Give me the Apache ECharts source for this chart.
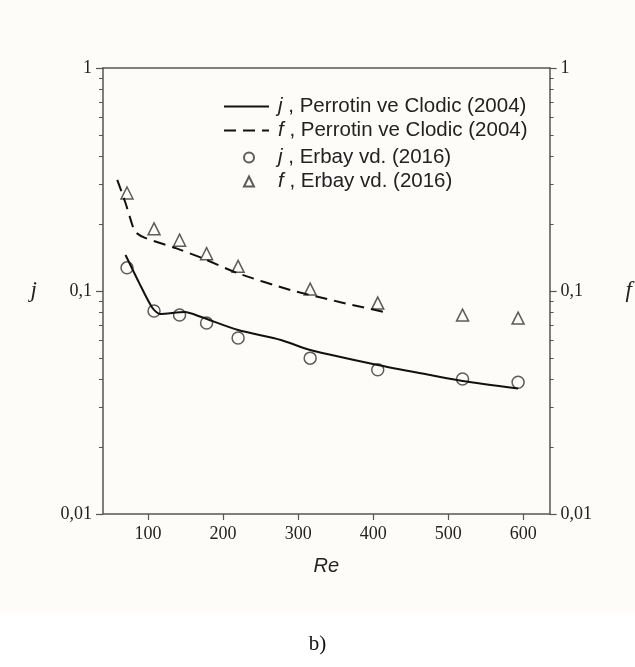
<!DOCTYPE html>
<html><head><meta charset="utf-8">
<script src="https://cdn.jsdelivr.net/npm/echarts@6/dist/echarts.min.js"></script>
<style>html,body{margin:0;padding:0;background:#fff}#c{width:635px;height:667px}</style>
</head><body><div id="c"></div>
<script>
// Experimental data (Erbay vd. 2016)
const reExp = [72, 108, 142, 178, 220, 316, 406, 519, 593];
const jExp  = [0.127, 0.0813, 0.078, 0.0719, 0.0615, 0.050, 0.0443, 0.0403, 0.039];
const fExp  = [0.275, 0.19, 0.169, 0.147, 0.129, 0.102, 0.0883, 0.078, 0.0756];
// Correlation curves (Perrotin ve Clodic 2004)
const reJLine = [70, 88, 105, 116, 149, 171, 220, 277, 316, 406, 476, 519, 593];
const jLine   = [0.145, 0.109, 0.0848, 0.0788, 0.0805, 0.0764, 0.0668, 0.0603, 0.0544, 0.0466, 0.042, 0.0395, 0.0365];
const reFLine = [59, 70, 79, 83, 96, 136, 171, 220, 290, 355, 372, 415];
const fLine   = [0.315, 0.248, 0.198, 0.184, 0.173, 0.156, 0.141, 0.12, 0.101, 0.0893, 0.0866, 0.0805];
// Axis ticks
const xTickLabels = [100, 200, 300, 400, 500, 600];
const yMajor = [0.01, 0.1, 1];
const yMinor = [0.02,0.03,0.04,0.05,0.06,0.07,0.08,0.09,0.2,0.3,0.4,0.5,0.6,0.7,0.8,0.9];
const yLabelText = {0.01: '0,01', 0.1: '0,1', 1: '1'};
// Legend names
const nameJLine = 'j| , Perrotin ve Clodic (2004)';
const nameFLine = 'f| , Perrotin ve Clodic (2004)';
const nameJExp  = 'j| , Erbay vd. (2016)';
const nameFExp  = 'f| , Erbay vd. (2016)';

const zip = (a, b) => a.map((v, i) => [v, b[i]]);
const AX = '#555';
const serif = '"Liberation Serif", "DejaVu Serif", serif';
const sans = '"Liberation Sans", Arial, sans-serif';

const grid = {left: 103, right: 84, top: 68, bottom: 153};
const xCommon = {type: 'value', min: 40, max: 635};
const yCommon = {type: 'log', logBase: 10, min: 0.01, max: 1};

const legendText = {
  fontFamily: sans, fontSize: 20.5, color: '#222',
  rich: {it: {fontFamily: sans, fontStyle: 'italic', fontSize: 20.5, color: '#222'}}
};
const legendFmt = function (name) {
  const parts = name.split('|');
  return '{it|' + parts[0] + '}' + parts[1];
};

const chart = echarts.init(document.getElementById('c'), null, {renderer: 'canvas'});
chart.setOption({
  backgroundColor: '#ffffff',
  animation: false,
  graphic: [
    {type: 'rect', shape: {x: 0, y: 0, width: 635, height: 613}, style: {fill: '#fdfcf8'}, z: -10, silent: true},
    {type: 'text', left: 'center', top: 634, style: {text: 'b)', font: '21px ' + serif, fill: '#111'}}
  ],
  grid: grid,
  xAxis: [
    Object.assign({}, xCommon, {
      position: 'bottom',
      name: 'Re', nameLocation: 'middle', nameGap: 42,
      nameTextStyle: {fontFamily: sans, fontStyle: 'italic', fontSize: 20, color: '#222'},
      axisLine: {show: true, onZero: false, lineStyle: {color: AX, width: 1.5}},
      axisTick: {show: true, length: 6, customValues: xTickLabels, lineStyle: {color: AX, width: 1.2}},
      axisLabel: {customValues: xTickLabels, fontFamily: serif, fontSize: 18, color: '#222', margin: 11},
      splitLine: {show: false}
    }),
    Object.assign({}, xCommon, {
      position: 'top',
      axisLine: {show: true, onZero: false, lineStyle: {color: AX, width: 1.5}},
      axisTick: {show: false}, axisLabel: {show: false}, splitLine: {show: false}
    })
  ],
  yAxis: [
    Object.assign({}, yCommon, {
      position: 'left',
      name: 'j', nameLocation: 'middle', nameGap: 66, nameRotate: 0,
      nameTextStyle: {fontFamily: serif, fontStyle: 'italic', fontSize: 23, color: '#222'},
      axisLine: {show: true, onZero: false, lineStyle: {color: AX, width: 1.5}},
      axisTick: {show: true, length: 7, customValues: yMajor, lineStyle: {color: AX, width: 1.2}},
      axisLabel: {customValues: yMajor, formatter: v => yLabelText[v] || v, fontFamily: serif, fontSize: 18, color: '#222', margin: 11},
      splitLine: {show: false}
    }),
    Object.assign({}, yCommon, {
      position: 'right',
      name: 'f', nameLocation: 'middle', nameGap: 76, nameRotate: 0,
      nameTextStyle: {fontFamily: serif, fontStyle: 'italic', fontSize: 23, color: '#222'},
      axisLine: {show: true, onZero: false, lineStyle: {color: AX, width: 1.5}},
      axisTick: {show: true, length: 7, customValues: yMajor, lineStyle: {color: AX, width: 1.2}},
      axisLabel: {customValues: yMajor, formatter: v => yLabelText[v] || v, fontFamily: serif, fontSize: 18, color: '#222', margin: 11},
      splitLine: {show: false}
    }),
    Object.assign({}, yCommon, {
      position: 'left',
      axisLine: {show: false},
      axisTick: {show: true, length: 4, customValues: yMinor, lineStyle: {color: AX, width: 1}},
      axisLabel: {show: false}, splitLine: {show: false}
    }),
    Object.assign({}, yCommon, {
      position: 'right',
      axisLine: {show: false},
      axisTick: {show: true, length: 4, customValues: yMinor, lineStyle: {color: AX, width: 1}},
      axisLabel: {show: false}, splitLine: {show: false}
    })
  ],
  legend: [
    {
      orient: 'vertical', left: 218, top: 91,
      itemWidth: 45, itemHeight: 14, itemGap: 3,
      textStyle: Object.assign({padding: [0, 0, 0, 4]}, legendText),
      formatter: legendFmt,
      data: [
        {name: nameJLine, itemStyle: {opacity: 0}},
        {name: nameFLine, itemStyle: {opacity: 0}}
      ]
    },
    {
      orient: 'vertical', left: 238, top: 142,
      itemWidth: 10, itemHeight: 10, itemGap: 3,
      textStyle: Object.assign({padding: [0, 0, 0, 19]}, legendText),
      formatter: legendFmt,
      data: [
        {name: nameJExp},
        {name: nameFExp}
      ]
    }
  ],
  series: [
    {
      name: nameJLine, type: 'line', xAxisIndex: 0, yAxisIndex: 0,
      data: zip(reJLine, jLine), showSymbol: false, symbol: 'none', smooth: 0.25,
      lineStyle: {color: '#111', width: 2}, itemStyle: {color: '#111'}
    },
    {
      name: nameFLine, type: 'line', xAxisIndex: 0, yAxisIndex: 1,
      data: zip(reFLine, fLine), showSymbol: false, symbol: 'none', smooth: 0.25,
      lineStyle: {color: '#111', width: 2, type: [12, 7]}, itemStyle: {color: '#111'}
    },
    {
      name: nameJExp, type: 'scatter', xAxisIndex: 0, yAxisIndex: 0,
      data: zip(reExp, jExp), symbol: 'circle', symbolSize: 12,
      itemStyle: {color: 'rgba(255,255,255,0)', borderColor: '#333', borderWidth: 1.5}
    },
    {
      name: nameFExp, type: 'scatter', xAxisIndex: 0, yAxisIndex: 1,
      data: zip(reExp, fExp), symbol: 'triangle', symbolSize: 12,
      itemStyle: {color: 'rgba(255,255,255,0)', borderColor: '#333', borderWidth: 1.5}
    }
  ]
});
</script>
</body></html>
